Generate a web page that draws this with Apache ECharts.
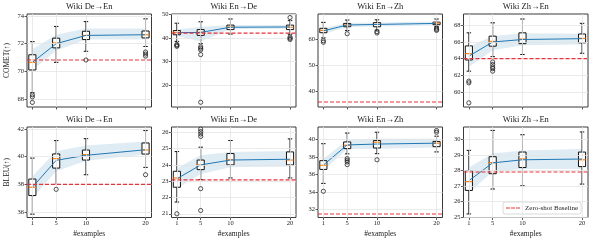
<!DOCTYPE html>
<html><head><meta charset="utf-8">
<script src="https://cdn.jsdelivr.net/npm/echarts@6/dist/echarts.min.js"></script>
<style>html,body{margin:0;padding:0;background:#fff}#c{width:596px;height:243px}</style>
</head><body><div id="c"></div>
<script>
// ---------- data ----------
const xs = [1, 5, 10, 20];
const xTickLabels = ['1', '5', '10', '20'];
const panelTitles = ['Wiki De→En', 'Wiki En→De', 'Wiki En→Zh', 'Wiki Zh→En',
                     'Wiki De→En', 'Wiki En→De', 'Wiki En→Zh', 'Wiki Zh→En'];
const metricNames = ['COMET(↑)', 'BLEU(↑)'];
const legendName = 'Zero-shot Baseline';

// box stats per x: [min whisker, Q1, median, Q3, max whisker]
const cometDeEnBox = [[68.45, 70.1, 70.65, 71.2, 72.15], [70.65, 71.7, 72.05, 72.4, 73.25], [71.45, 72.3, 72.6, 72.9, 73.6], [71.8, 72.42, 72.65, 72.92, 73.8]];
const cometDeEnOut = [[1, 68.3], [1, 68.15], [1, 67.75], [10, 70.82], [20, 71.4], [20, 71.25], [20, 71.1]];
const cometDeEnMean = [70.65, 72.0, 72.6, 72.65];
const cometDeEnLo = [70.1, 71.5, 72.3, 72.3];
const cometDeEnHi = [71.6, 72.65, 73.1, 73.1];

const cometEnDeBox = [[38.5, 41.3, 42.35, 43.1, 46.2], [37.5, 41.05, 42.35, 43.5, 46.8], [41.6, 43.5, 44.6, 45.4, 48.0], [41.5, 43.5, 44.5, 45.4, 47.3]];
const cometEnDeOut = [[1, 37.2], [1, 36.8], [1, 36.4], [5, 36.2], [5, 35.6], [5, 34.9], [5, 32.9], [5, 12.7], [20, 48.6], [20, 40.3], [20, 39.8], [20, 39.3]];
const cometEnDeMean = [42.2, 42.3, 44.5, 44.6];
const cometEnDeLo = [40.9, 38.4, 43.7, 43.8];
const cometEnDeHi = [43.5, 44.7, 45.4, 45.4];

const cometEnZhBox = [[60.6, 62.6, 63.5, 64.3, 66.6], [63.4, 64.9, 65.6, 66.2, 67.5], [63.6, 64.9, 65.8, 66.5, 67.6], [64.9, 65.7, 66.3, 66.7, 67.9]];
const cometEnZhOut = [[1, 59.5], [1, 58.9], [5, 62.2], [10, 63.0], [10, 62.5], [20, 64.4], [20, 63.9], [20, 63.5]];
const cometEnZhMean = [63.3, 65.6, 65.8, 66.2];
const cometEnZhLo = [62.1, 64.8, 65.0, 65.4];
const cometEnZhHi = [64.4, 66.4, 66.6, 66.9];

const cometZhEnBox = [[62.5, 63.84, 64.6, 65.53, 67.1], [64.24, 65.5, 66.07, 66.7, 68.3], [64.5, 65.8, 66.35, 67.1, 68.76], [64.65, 65.9, 66.44, 66.96, 68.24]];
const cometZhEnOut = [[1, 61.3], [1, 61.1], [1, 58.7], [5, 63.6], [5, 63.3], [5, 63.0], [5, 62.8], [5, 62.5]];
const cometZhEnMean = [64.3, 66.0, 66.3, 66.4];
const cometZhEnLo = [63.0, 65.0, 65.6, 65.7];
const cometZhEnHi = [65.45, 66.7, 67.05, 67.0];

const bleuDeEnBox = [[35.86, 37.2, 37.8, 38.39, 39.9], [38.0, 39.18, 39.86, 40.2, 41.16], [38.7, 39.76, 40.15, 40.48, 41.3], [39.23, 40.19, 40.48, 40.99, 41.88]];
const bleuDeEnOut = [[5, 37.65], [20, 38.7]];
const bleuDeEnMean = [37.8, 39.74, 40.1, 40.5];
const bleuDeEnLo = [37.0, 38.95, 39.7, 40.15];
const bleuDeEnHi = [38.6, 40.4, 40.8, 41.1];

const bleuEnDeBox = [[21.72, 22.63, 23.2, 23.61, 24.82], [23.1, 23.71, 24.0, 24.3, 25.09], [23.2, 24.0, 24.32, 24.7, 25.5], [23.2, 24.0, 24.3, 24.8, 25.6]];
const bleuEnDeOut = [[1, 21.0], [5, 26.2], [5, 26.05], [5, 25.9], [5, 25.75], [5, 22.54], [5, 21.2]];
const bleuEnDeMean = [23.15, 24.0, 24.3, 24.35];
const bleuEnDeLo = [22.55, 23.45, 23.85, 23.9];
const bleuEnDeHi = [23.8, 24.6, 24.8, 24.85];

const bleuEnZhBox = [[35.0, 36.6, 37.07, 37.6, 39.54], [38.38, 38.98, 39.36, 39.74, 40.76], [38.4, 39.05, 39.7, 39.9, 40.85], [38.6, 39.2, 39.6, 39.8, 40.4]];
const bleuEnZhOut = [[1, 34.1], [5, 37.84], [5, 37.65], [5, 37.45], [5, 37.15], [10, 37.7], [20, 41.05], [20, 40.85]];
const bleuEnZhMean = [37.1, 39.4, 39.5, 39.6];
const bleuEnZhLo = [36.5, 38.9, 38.95, 39.1];
const bleuEnZhHi = [37.8, 39.95, 40.1, 40.1];

const bleuZhEnBox = [[25.2, 26.72, 27.29, 28.0, 29.31], [26.81, 27.8, 28.52, 28.9, 30.6], [27.02, 28.2, 28.76, 29.2, 30.32], [27.13, 28.26, 28.7, 29.2, 30.5]];
const bleuZhEnOut = [];
const bleuZhEnMean = [27.35, 28.5, 28.7, 28.75];
const bleuZhEnLo = [26.55, 27.95, 28.1, 28.1];
const bleuZhEnHi = [28.2, 29.1, 29.3, 29.4];

const baselines = [70.82, 42.0, 35.73, 64.0, 38.0, 23.08, 31.5, 27.91];
const yMins = [67.42, 10.7, 33.8, 58.2, 35.62, 20.77, 31.1, 24.97];
const yMaxs = [74.15, 50.1, 69.85, 69.36, 42.14, 26.33, 41.45, 30.82];
const yTicks = [[68, 70, 72, 74], [20, 30, 40, 50], [40, 50, 60], [60, 62, 64, 66, 68],
                [36, 38, 40, 42], [21, 22, 23, 24, 25, 26], [32, 34, 36, 38, 40], [25, 26, 27, 28, 29, 30]];
const xMin = 0.1, xMax = 21;

// ---------- layout / style ----------
const FONT = 'Liberation Serif';
const lefts = [27, 171.5, 318, 463.5];
const tops = [14, 127];
const heights = [93, 90.5];
const W = 124.5;

const panels = [
  [cometDeEnBox, cometDeEnOut, cometDeEnMean, cometDeEnLo, cometDeEnHi],
  [cometEnDeBox, cometEnDeOut, cometEnDeMean, cometEnDeLo, cometEnDeHi],
  [cometEnZhBox, cometEnZhOut, cometEnZhMean, cometEnZhLo, cometEnZhHi],
  [cometZhEnBox, cometZhEnOut, cometZhEnMean, cometZhEnLo, cometZhEnHi],
  [bleuDeEnBox, bleuDeEnOut, bleuDeEnMean, bleuDeEnLo, bleuDeEnHi],
  [bleuEnDeBox, bleuEnDeOut, bleuEnDeMean, bleuEnDeLo, bleuEnDeHi],
  [bleuEnZhBox, bleuEnZhOut, bleuEnZhMean, bleuEnZhLo, bleuEnZhHi],
  [bleuZhEnBox, bleuZhEnOut, bleuZhEnMean, bleuZhEnLo, bleuZhEnHi]
];

function bandRender(lo, hi) {
  return function (params, api) {
    const up = xs.map((x, j) => api.coord([x, hi[j]]));
    const dn = xs.map((x, j) => api.coord([x, lo[j]])).reverse();
    return { type: 'polygon', silent: true, shape: { points: up.concat(dn) },
      style: { fill: 'rgba(31,119,180,0.14)' } };
  };
}

function boxRender(params, api) {
  const x = api.value(0);
  const v = [1, 2, 3, 4, 5].map(k => api.value(k));
  const p = v.map(val => api.coord([x, val]));
  const xc = p[0][0];
  const bw = api.size([1.2, 0])[0];
  const cw = api.size([0.75, 0])[0];
  const ln = (x1, y1, x2, y2, c, w) => ({ type: 'line', shape: { x1, y1, x2, y2 }, style: { stroke: c, lineWidth: w } });
  return { type: 'group', children: [
    ln(xc, p[1][1], xc, p[0][1], '#111', 1),
    ln(xc, p[3][1], xc, p[4][1], '#111', 1),
    ln(xc - cw / 2, p[0][1], xc + cw / 2, p[0][1], '#111', 1),
    ln(xc - cw / 2, p[4][1], xc + cw / 2, p[4][1], '#111', 1),
    { type: 'rect', shape: { x: xc - bw / 2, y: p[3][1], width: bw, height: p[1][1] - p[3][1] },
      style: { fill: '#fff', stroke: '#111', lineWidth: 1 } },
    ln(xc - bw / 2, p[2][1], xc + bw / 2, p[2][1], '#ff7f0e', 1.2)
  ] };
}

const grids = [], xAxes = [], yAxes = [], series = [], titles = [];
const txt = { fontFamily: FONT, color: '#222' };

for (let i = 0; i < 8; i++) {
  const row = Math.floor(i / 4), col = i % 4;
  const [box, out, mean, lo, hi] = panels[i];
  grids.push({ left: lefts[col], top: tops[row], width: W, height: heights[row],
    show: true, borderColor: '#3a3a3a', borderWidth: 1, backgroundColor: 'transparent' });
  titles.push({ text: panelTitles[i], left: lefts[col] + W / 2, top: row === 0 ? 2.5 : 115.5,
    textAlign: 'center', padding: 0,
    textStyle: Object.assign({ fontSize: 8.5, fontWeight: 'normal' }, txt) });
  xAxes.push({ type: 'value', gridIndex: i, min: xMin, max: xMax,
    axisLine: { show: false }, splitLine: { show: false },
    axisTick: { show: true, customValues: xs, length: 2.5, lineStyle: { color: '#333', width: 0.8 } },
    axisLabel: { show: row === 1, customValues: xs, margin: 2,
      formatter: v => xTickLabels[xs.indexOf(v)] || String(v),
      fontSize: 6.5, fontFamily: FONT, color: '#222' },
    name: row === 1 ? '#examples' : '', nameLocation: 'middle', nameGap: 13,
    nameTextStyle: Object.assign({ fontSize: 7.5 }, txt) });
  yAxes.push({ type: 'value', gridIndex: i, min: yMins[i], max: yMaxs[i],
    axisLine: { show: false }, splitLine: { show: false },
    axisTick: { show: true, customValues: yTicks[i], length: 2.5, lineStyle: { color: '#333', width: 0.8 } },
    axisLabel: { customValues: yTicks[i], margin: 3, fontSize: 6.5, fontFamily: FONT, color: '#222' },
    name: col === 0 ? metricNames[row] : '', nameLocation: 'middle', nameGap: 16, nameRotate: 90,
    nameTextStyle: Object.assign({ fontSize: 7.5 }, txt) });

  // grid lines
  series.push({ type: 'line', xAxisIndex: i, yAxisIndex: i, z: 1, silent: true,
    data: [[xs[0], yTicks[i][0]]], symbol: 'none', lineStyle: { opacity: 0 },
    markLine: { silent: true, symbol: ['none', 'none'], label: { show: false },
      lineStyle: { color: '#e4e4e4', width: 0.8, type: 'solid' },
      emphasis: { disabled: true },
      data: xs.map(v => ({ xAxis: v })).concat(yTicks[i].map(v => ({ yAxis: v }))) } });
  // std band
  series.push({ type: 'custom', xAxisIndex: i, yAxisIndex: i, z: 2, silent: true,
    data: [[xs[0], mean[0]]], renderItem: bandRender(lo, hi) });
  // boxes
  series.push({ type: 'custom', xAxisIndex: i, yAxisIndex: i, z: 3, silent: true,
    data: xs.map((x, j) => [x].concat(box[j])), renderItem: boxRender });
  // mean line
  series.push({ type: 'line', xAxisIndex: i, yAxisIndex: i, z: 4, silent: true,
    data: xs.map((x, j) => [x, mean[j]]), symbol: 'none',
    lineStyle: { color: '#1f77b4', width: 1 } });
  // baseline
  series.push({ type: 'line', name: i === 7 ? legendName : undefined, xAxisIndex: i, yAxisIndex: i, z: 5, silent: true,
    data: [[xMin, baselines[i]], [xMax, baselines[i]]], symbol: 'none',
    lineStyle: { color: '#e8333a', width: 1.2, type: [4, 2] }, itemStyle: { color: '#e8333a' } });
  // outliers
  series.push({ type: 'scatter', xAxisIndex: i, yAxisIndex: i, z: 6, silent: true,
    data: out, symbol: 'circle', symbolSize: 4.2,
    itemStyle: { color: 'rgba(0,0,0,0)', borderColor: '#111', borderWidth: 0.9 } });
}

const chart = echarts.init(document.getElementById('c'), null, { renderer: 'canvas' });
chart.setOption({
  animation: false,
  title: titles,
  grid: grids, xAxis: xAxes, yAxis: yAxes, series: series,
  legend: { data: [{ name: legendName, icon: 'path://M0 0H4V1H0Z M5 0H9V1H5Z M10 0H14V1H10Z' }],
    left: 503, top: 202, itemWidth: 14, itemHeight: 1.4,
    padding: [2.5, 3, 2.5, 3], borderColor: '#cfcfcf', borderWidth: 0.8, borderRadius: 2,
    backgroundColor: 'rgba(255,255,255,0.85)', selectedMode: false,
    textStyle: { fontSize: 7, fontFamily: FONT, color: '#222', padding: [0, 0, 0, 0] } }
});
</script></body></html>
